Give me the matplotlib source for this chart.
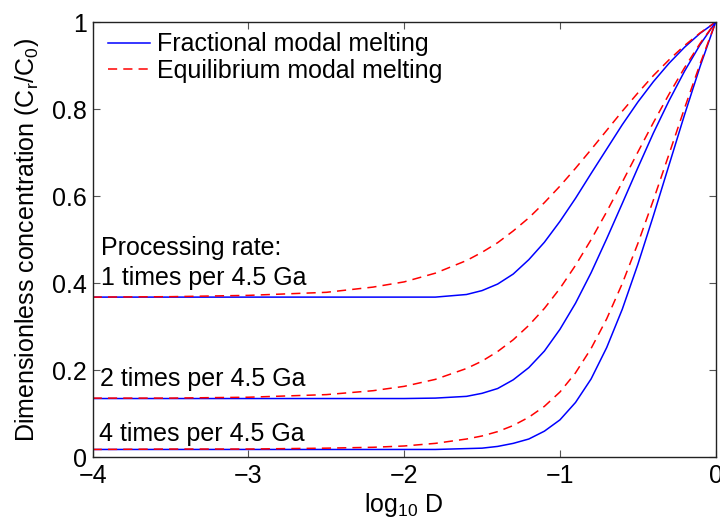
import matplotlib
matplotlib.use("Agg")
import matplotlib.pyplot as plt

plt.rcParams['font.family'] = ['Liberation Sans', 'DejaVu Sans']
plt.rcParams['mathtext.fontset'] = 'custom'
plt.rcParams['mathtext.rm'] = 'Liberation Sans'
plt.rcParams['mathtext.it'] = 'Liberation Sans:italic'

# ---- data (x = log10 D, y = Cr/C0) ----
log_d = [-4.0, -3.5, -3.0, -2.5, -2.2, -2.0, -1.8, -1.6, -1.5, -1.4, -1.3, -1.2,
         -1.1, -1.0, -0.9, -0.8, -0.7, -0.6, -0.5, -0.4, -0.3, -0.2, -0.1, 0.0]

frac_1x = [0.368, 0.368, 0.368, 0.368, 0.368, 0.368, 0.368, 0.374, 0.383, 0.398, 0.421, 0.454,
           0.494, 0.542, 0.595, 0.652, 0.708, 0.764, 0.816, 0.863, 0.905, 0.942, 0.974, 1.0]
equi_1x = [0.368, 0.369, 0.372, 0.379, 0.391, 0.403, 0.423, 0.452, 0.471, 0.493, 0.520, 0.550,
           0.585, 0.623, 0.664, 0.707, 0.751, 0.795, 0.837, 0.877, 0.913, 0.946, 0.975, 1.0]

frac_2x = [0.135, 0.135, 0.135, 0.135, 0.135, 0.135, 0.136, 0.140, 0.147, 0.158, 0.178, 0.206,
           0.244, 0.294, 0.354, 0.424, 0.502, 0.583, 0.665, 0.745, 0.819, 0.887, 0.948, 1.0]
equi_2x = [0.136, 0.136, 0.138, 0.144, 0.153, 0.163, 0.179, 0.204, 0.221, 0.243, 0.270, 0.303,
           0.342, 0.388, 0.441, 0.500, 0.564, 0.632, 0.701, 0.769, 0.834, 0.895, 0.951, 1.0]

frac_4x = [0.018, 0.018, 0.018, 0.018, 0.018, 0.018, 0.018, 0.020, 0.021, 0.025, 0.032, 0.042,
           0.060, 0.086, 0.126, 0.180, 0.252, 0.340, 0.443, 0.555, 0.671, 0.787, 0.898, 1.0]
equi_4x = [0.018, 0.019, 0.019, 0.021, 0.023, 0.026, 0.032, 0.042, 0.049, 0.059, 0.073, 0.092,
           0.117, 0.150, 0.194, 0.250, 0.318, 0.399, 0.491, 0.591, 0.696, 0.802, 0.904, 1.0]

x_ticks = [-4, -3, -2, -1, 0]
x_ticklabels = ['\u22124', '\u22123', '\u22122', '\u22121', '0']
y_ticks = [0, 0.2, 0.4, 0.6, 0.8, 1]
y_ticklabels = ['0', '0.2', '0.4', '0.6', '0.8', '1']

rate_title = 'Processing rate:'
rate_labels = ['1 times per 4.5 Ga', '2 times per 4.5 Ga', '4 times per 4.5 Ga']
legend_labels = ['Fractional modal melting', 'Equilibrium modal melting']

# ---- figure ----
FS = 18
fig = plt.figure(figsize=(7.2, 5.21), dpi=100)
ax = fig.add_axes([92.7/720, 1-457.3/521, 623/720, 435.3/521])

blue = '#0000ff'
red = '#ff0000'
lw = 1.1
dash = (6, 4)

l1, = ax.plot(log_d, frac_1x, color=blue, lw=lw)
l2, = ax.plot(log_d, equi_1x, color=red, lw=lw, dashes=dash)
ax.plot(log_d, frac_2x, color=blue, lw=lw)
ax.plot(log_d, equi_2x, color=red, lw=lw, dashes=dash)
ax.plot(log_d, frac_4x, color=blue, lw=lw)
ax.plot(log_d, equi_4x, color=red, lw=lw, dashes=dash)

ax.set_xlim(-4, 0)
ax.set_ylim(0, 1)
ax.set_xticks(x_ticks)
ax.set_xticklabels(x_ticklabels)
ax.set_yticks(y_ticks)
ax.set_yticklabels(y_ticklabels)
ax.tick_params(direction='in', length=5, width=0.8, top=True, right=True,
               labelsize=FS, colors='#555555', labelcolor='black')
ax.tick_params(axis='x', pad=5)
ax.tick_params(axis='y', pad=4)
for s in ax.spines.values():
    s.set_linewidth(1.0)
    s.set_color('#222222')

ax.set_xlabel('log$_{10}$ D', fontsize=FS, labelpad=2)
ax.set_ylabel('Dimensionless concentration (C$_\\mathrm{r}$/C$_0$)', fontsize=FS, labelpad=8)

ax.text(-3.945, 0.465, rate_title, fontsize=FS, va='baseline')
for lab, (tx, ty) in zip(rate_labels, [(-3.945, 0.396), (-3.952, 0.164), (-3.962, 0.038)]):
    ax.text(tx, ty, lab, fontsize=FS, va='baseline')

ax.legend([l1, l2], legend_labels,
          loc='upper left', bbox_to_anchor=(0.0246, 0.976), frameon=False,
          fontsize=FS, handlelength=1.68, handletextpad=0.28,
          labelspacing=0.1, borderaxespad=0.0, borderpad=0.0)

fig.savefig('out.png', dpi=100)
